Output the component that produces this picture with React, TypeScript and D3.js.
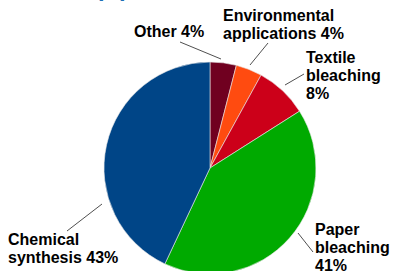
import React from 'react';
import * as d3 from 'd3';

// data
const categories = ['Other', 'Environmental applications', 'Textile bleaching', 'Paper bleaching', 'Chemical synthesis'];
const shares = [4, 4, 8, 41, 43];
const colors = ['#700020', '#ff4b10', '#cc0019', '#00aa00', '#004587'];

// label text lines, positions and leader line ends (layout only)
const labelLines = [
  ['Other 4%'],
  ['Environmental', 'applications 4%'],
  ['Textile', 'bleaching', '8%'],
  ['Paper', 'bleaching', '41%'],
  ['Chemical', 'synthesis 43%'],
];
const labelPos = [
  [134, 37],
  [223, 21],
  [306, 63],
  [315, 235],
  [8, 245],
];
const leaders = [
  [[180, 42], [221, 59]],
  [[268, 43], [250, 65]],
  [[304, 74], [285, 85]],
  [[313, 252], [298, 233]],
  [[67, 231], [102, 204]],
];

const W = 395;
const H = 271;
const cx = 210;
const cy = 168;
const R = 106;

export default function App() {
  const pie = d3.pie<number>().sort(null).value(d => d);
  const arcs = pie(shares);
  const arc = d3.arc<d3.PieArcDatum<number>>().innerRadius(0).outerRadius(R);
  const lh = 18;

  return (
    <svg width={W} height={H} style={{ position: 'absolute', left: 0, top: 0, background: '#fff' }}>
      {/* cut-off title fragment */}
      <text x={98} y={-4} fontFamily="Liberation Sans, Arial" fontWeight="bold" fontSize={24} fill="#1f6fb5">p</text>
      <text x={119} y={-4} fontFamily="Liberation Sans, Arial" fontWeight="bold" fontSize={24} fill="#1f6fb5">p</text>
      <g transform={`translate(${cx},${cy})`}>
        {arcs.map((a, i) => (
          <path key={categories[i]} d={arc(a) || ''} fill={colors[i]} stroke="#e8e8e8" strokeWidth={0.6} />
        ))}
      </g>
      {leaders.map((l, i) => (
        <line key={'l' + i} x1={l[0][0]} y1={l[0][1]} x2={l[1][0]} y2={l[1][1]} stroke="#222" strokeWidth={0.8} />
      ))}
      {labelLines.map((lines, i) => (
        <text key={'t' + i} x={labelPos[i][0]} y={labelPos[i][1]} fontFamily="Liberation Sans, Arial" fontWeight="bold" fontSize={16} fill="#000">
          {lines.map((s, j) => (
            <tspan key={j} x={labelPos[i][0]} y={labelPos[i][1] + j * lh}>{s}</tspan>
          ))}
        </text>
      ))}
    </svg>
  );
}
